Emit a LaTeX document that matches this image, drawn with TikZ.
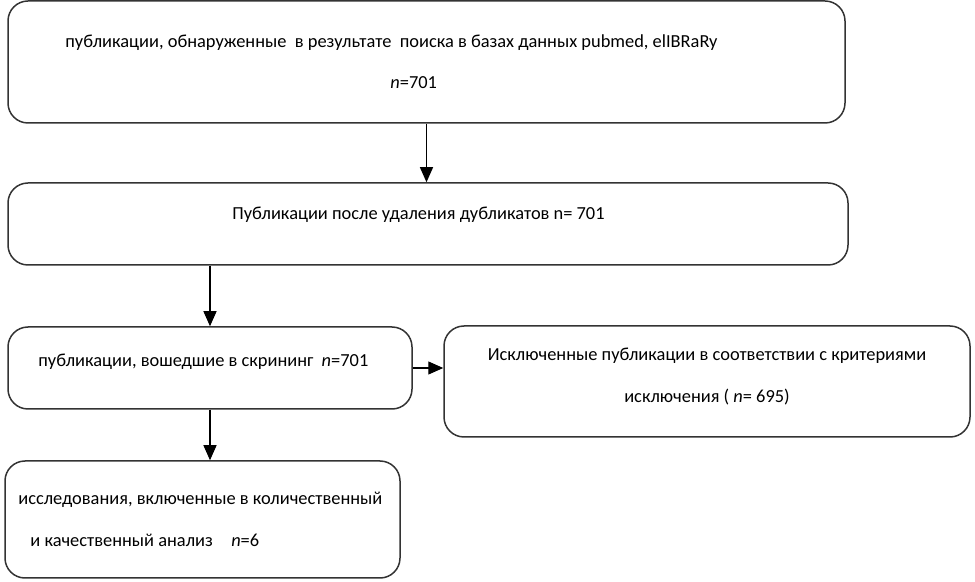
\documentclass[tikz,border=0pt]{standalone}
\usepackage{fontspec}
\setmainfont{Carlito}
\usetikzlibrary{arrows.meta}

\begin{document}
\begin{tikzpicture}[x=0.5pt,y=-0.5pt,
  box/.style={draw=black!80, line width=0.75pt, rounded corners=10pt, inner sep=0pt},
  txt/.style={font=\fontsize{9.2}{11}\selectfont, inner sep=0pt, anchor=west},
  ctxt/.style={txt, anchor=center},
  arr/.style={-{Triangle[length=7.5pt,width=6.5pt]}, line width=0.6pt}]
\useasboundingbox (0,0) rectangle (975,582);
% boxes
\node[box, minimum width=418.5pt, minimum height=61pt] (found) at (426.5,62) {};
\node[box, minimum width=420pt, minimum height=41pt] (nodup) at (428,224) {};
\node[box, minimum width=202pt, minimum height=41pt] (screen) at (210,368) {};
\node[box, minimum width=263pt, minimum height=55.5pt] (excl) at (707,381.5) {};
\node[box, minimum width=197.5pt, minimum height=58.5pt] (incl) at (202.5,519.5) {};
% texts
\node[txt] (found1) at (65,43) {публикации, обнаруженные\ \ в результате\ \ поиска в базах данных pubmed, elIBRaRy};
\node[txt] (found2) at (390,83) {\textit{n}=701};
\node[txt] (nodup1) at (232,215) {Публикации после удаления дубликатов n= 701};
\node[txt] (screen1) at (38,362) {публикации, вошедшие в скрининг\ \ \textit{n}=701};
\node[ctxt] (excl1) at (707,356) {Исключенные публикации в соответствии с критериями};
\node[ctxt] (excl2) at (707,397) {исключения ( \textit{n}= 695)};
\node[txt] (incl1) at (18,500) {исследования, включенные в количественный};
\node[txt] (incl2) at (30,540) {и качественный\ анализ\quad\textit{n}=6};
% arrows
\draw[arr] (found.south) -- (found.south |- nodup.north);
\draw[arr] (screen.north |- nodup.south) -- (screen.north);
\draw[arr] (screen.east) -- (screen.east -| excl.west);
\draw[arr] (screen.south) -- (screen.south |- incl.north);
\end{tikzpicture}
\end{document}
